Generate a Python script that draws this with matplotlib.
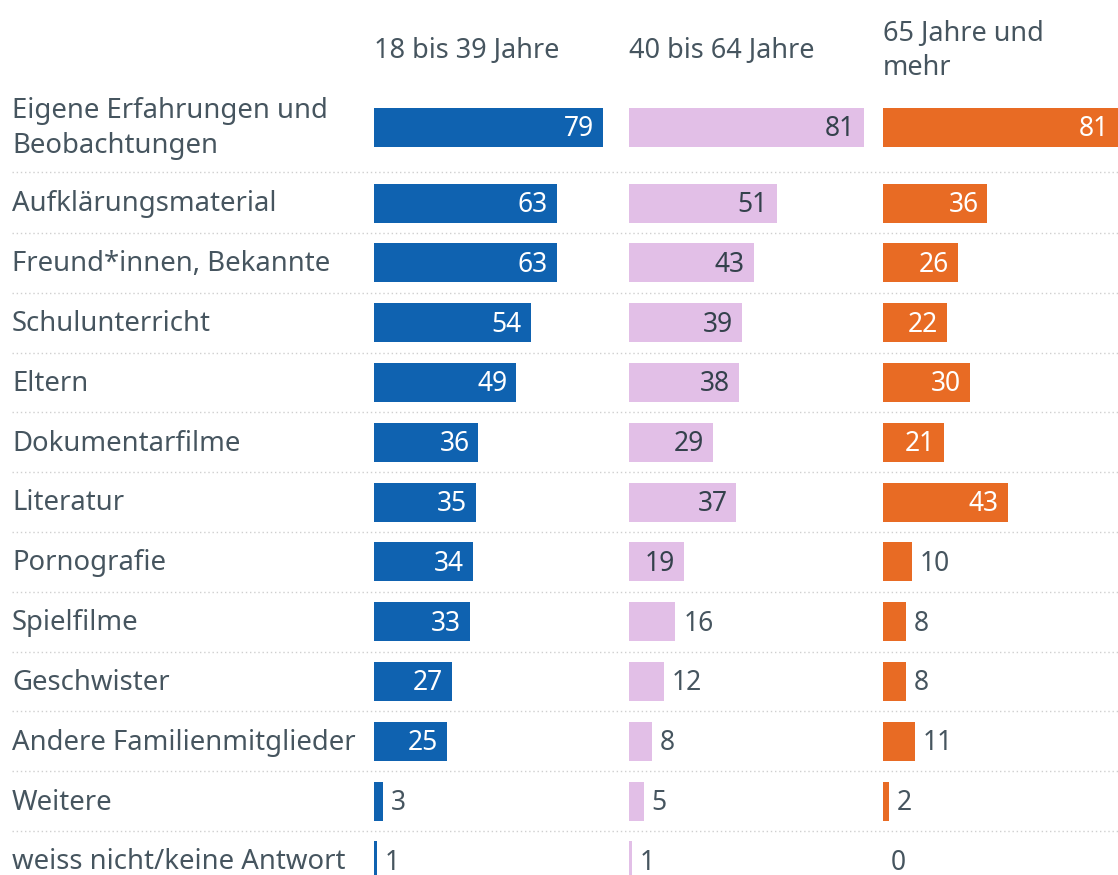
import numpy as np
import matplotlib.pyplot as plt
from matplotlib import transforms

plt.rcParams['font.family'] = ['Noto Sans', 'DejaVu Sans']

categories = ["Eigene Erfahrungen und\nBeobachtungen", "Aufklärungsmaterial",
              "Freund*innen, Bekannte", "Schulunterricht", "Eltern",
              "Dokumentarfilme", "Literatur", "Pornografie", "Spielfilme",
              "Geschwister", "Andere Familienmitglieder", "Weitere",
              "weiss nicht/keine Antwort"]
groups = ["18 bis 39 Jahre", "40 bis 64 Jahre", "65 Jahre und\nmehr"]
young = [79, 63, 63, 54, 49, 36, 35, 34, 33, 27, 25, 3, 1]
middle = [81, 51, 43, 39, 38, 29, 37, 19, 16, 12, 8, 5, 1]
old = [81, 36, 26, 22, 30, 21, 43, 10, 8, 8, 11, 2, 0]

colors = ["#0f62b0", "#e2bfe7", "#e86b24"]
inside_col = ["white", "#34414c", "white"]
txt = "#46555f"

W, H = 1118, 875
fig = plt.figure(figsize=(W / 100, H / 100), dpi=100)

# row centres in pixels (first row has two-line label)
ypos = np.array([127] + [203 + 59.8 * i for i in range(len(categories) - 1)])
seps = (ypos[:-1] + ypos[1:]) / 2 + np.array([7] + [0] * (len(ypos) - 2))

starts = [374, 629, 883]
pw = 235
axes = []
for k, vals in enumerate([young, middle, old]):
    ax = fig.add_axes([starts[k] / W, 0, pw / W, 1])
    ax.set_xlim(0, 81)
    ax.set_ylim(H, 0)
    ax.axis('off')
    ax.barh(ypos, vals, height=39, color=colors[k])
    for y, v in zip(ypos, vals):
        if v >= 18:
            ax.annotate(str(v), (v, y), xytext=(-9, -2), textcoords='offset pixels',
                        ha='right', va='center', color=inside_col[k], fontsize=19)
        else:
            ax.annotate(str(v), (v, y), xytext=(8, -2), textcoords='offset pixels',
                        ha='left', va='center', color=txt, fontsize=19)
    fig.text(starts[k] / W, 1 - 51 / H, groups[k], ha='left', va='center',
             color=txt, fontsize=19.5, linespacing=1.3)
    axes.append(ax)

trans = transforms.blended_transform_factory(fig.transFigure, axes[0].transData)
for y, c in zip(ypos, categories):
    fig.text(12 / W, y + 1.5, c, transform=trans, ha='left', va='center',
             color=txt, fontsize=19.8, linespacing=1.3)

for s in seps:
    fig.add_artist(plt.Line2D([12 / W, 1], [1 - s / H, 1 - s / H],
                              color="#cfcfcf", lw=1, ls=(0, (1, 2))))

fig.savefig("out.png", dpi=100)
